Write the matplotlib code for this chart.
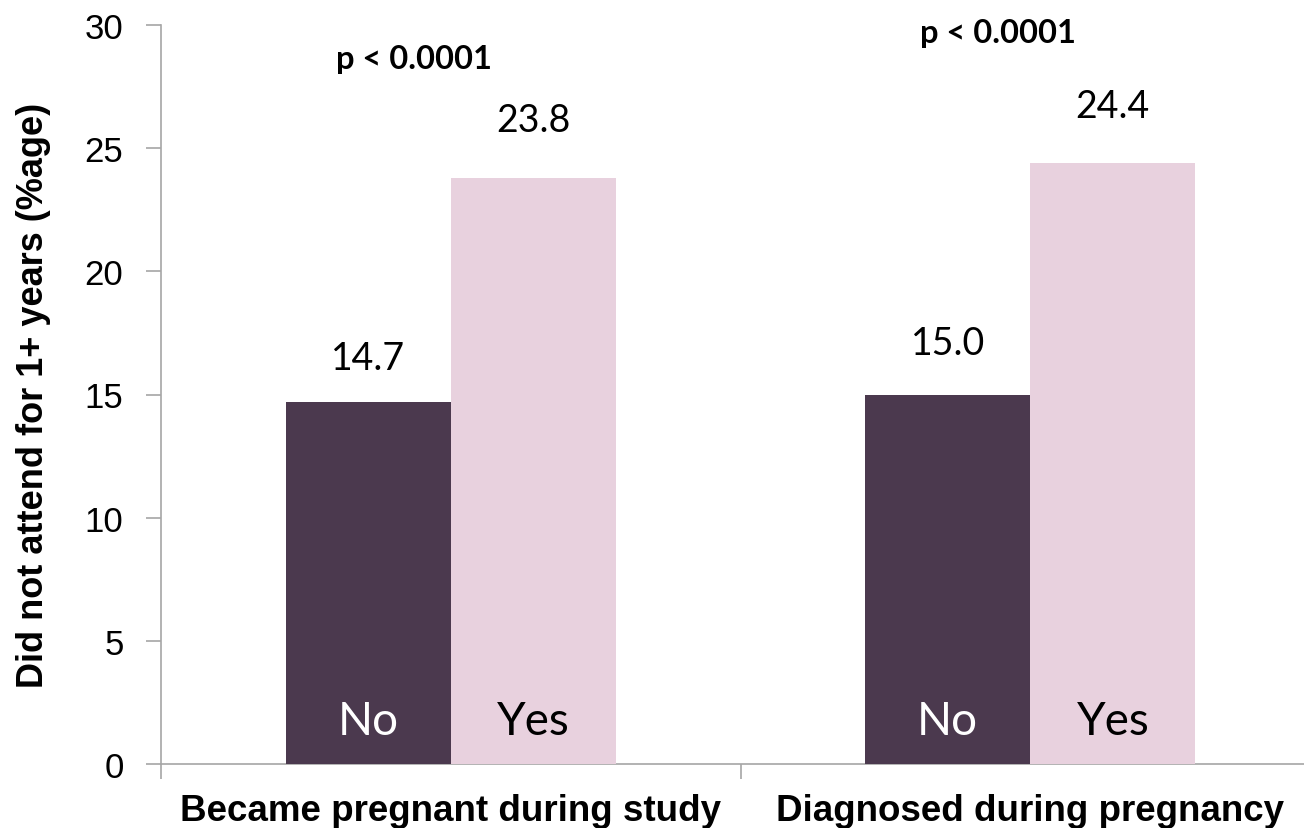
import numpy as np
import matplotlib.pyplot as plt

# data
groups = ['Became pregnant during study', 'Diagnosed during pregnancy']
answers = ['No', 'Yes']
pct_no = [14.7, 15.0]
pct_yes = [23.8, 24.4]
p_labels = ['p < 0.0001', 'p < 0.0001']

no_color = '#4b394e'
yes_color = '#e8d1de'
axis_color = '#a6a6a6'

fig = plt.figure(figsize=(13.04, 8.29), dpi=100)
fig.set_facecolor('white')
# right edge of the axes runs past the figure, so the last category is cut
ax = fig.add_axes([161 / 1304, 64 / 829, 1159 / 1304, 739 / 829])

x = np.arange(len(groups))
w = 0.285
bars_no = ax.bar(x - w / 2, pct_no, width=w, color=no_color, zorder=3)
bars_yes = ax.bar(x + w / 2, pct_yes, width=w, color=yes_color, zorder=3)

# value labels above bars (offsets in points)
for bars, vals, offs in [(bars_no, pct_no, [24, 29]), (bars_yes, pct_yes, [34, 33])]:
    for b, v, o in zip(bars, vals, offs):
        ax.annotate(f'{v:.1f}', (b.get_x() + b.get_width() / 2, v),
                    xytext=(0, o), textcoords='offset points',
                    ha='center', va='baseline', fontsize=27,
                    family='Lato', color='black')

# answer labels inside the bars
for b in bars_no:
    ax.text(b.get_x() + b.get_width() / 2, 1.2, answers[0], ha='center',
            va='baseline', fontsize=33, family='Lato', color='white', zorder=4)
for b in bars_yes:
    ax.text(b.get_x() + b.get_width() / 2, 1.2, answers[1], ha='center',
            va='baseline', fontsize=33, family='Lato', color='black', zorder=4)

# significance
ax.text(-0.064, 28.25, p_labels[0], ha='center', va='baseline',
        fontsize=23.5, fontweight='bold', family='Lato')
ax.text(0.945, 29.3, p_labels[1], ha='center', va='baseline',
        fontsize=23.5, fontweight='bold', family='Lato')

# axes
ax.set_ylim(0, 30)
ax.set_yticks(np.arange(0, 31, 5))
ax.set_xlim(-0.5, 1.5)
ax.set_xticks([-0.5, 0.5, 1.5])
ax.set_xticklabels([])
ax.set_xticks(x, minor=True)
ax.set_xticklabels(groups, minor=True, fontsize=26.5, fontweight='bold',
                   family='Liberation Sans')
ax.tick_params(axis='x', which='minor', length=0, pad=21)
ax.tick_params(axis='x', which='major', length=11, color=axis_color, width=1.2)
ax.tick_params(axis='y', length=11, color=axis_color, width=1.2,
               labelsize=25, pad=16)
for lab in ax.get_yticklabels():
    lab.set_family('Liberation Sans')

for s in ['top', 'right']:
    ax.spines[s].set_visible(False)
for s in ['left', 'bottom']:
    ax.spines[s].set_color(axis_color)
    ax.spines[s].set_linewidth(1.2)

ax.set_ylabel('Did not attend for 1+ years (%age)', fontsize=26,
              fontweight='bold', family='Liberation Sans', labelpad=24)

fig.savefig('out.png', dpi=100)
